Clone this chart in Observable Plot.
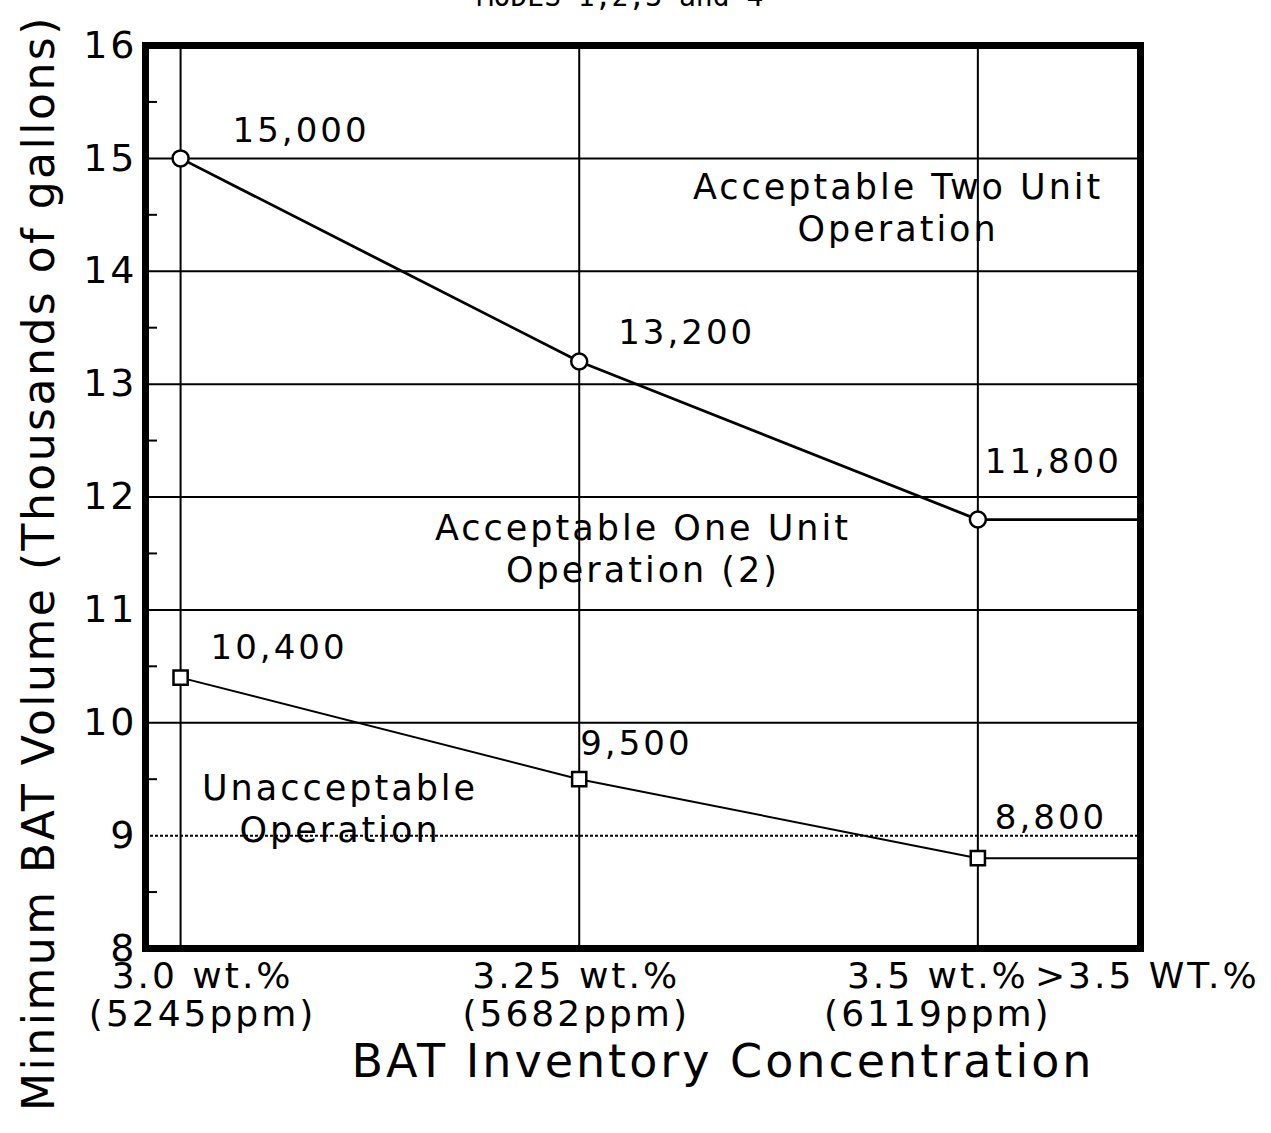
<!DOCTYPE html>
<html>
<head>
<meta charset="utf-8">
<script src="https://cdn.jsdelivr.net/npm/d3@7"></script>
<script src="https://cdn.jsdelivr.net/npm/@observablehq/plot@0.6"></script>
<style>
  html, body { margin: 0; padding: 0; background: #fff; overflow: hidden; }
  #wrap { position: relative; width: 1271px; height: 1133px; }
  #title { position: absolute; top: -17px; left: 0; width: 1240px; text-align: center;
           font-family: "DejaVu Sans Mono", monospace; font-size: 28px; color: #000; line-height: 1; }
  svg { font-family: "DejaVu Sans", sans-serif; }
  svg text { letter-spacing: 3px; }
</style>
</head>
<body>
<div id="wrap">
  <div id="title">MODES 1,2,3 and 4</div>
  <div id="chart"></div>
</div>
<script>
// ---- data ----
const concentrations = [3.0, 3.25, 3.5];
const beyondX = 3.6;                 // ">3.5 WT.%" position (right edge)
const xTickValues = [3.0, 3.25, 3.5, 3.6];
const xTickLabels = ["3.0 wt.%\n(5245ppm)", "3.25 wt.%\n(5682ppm)", "3.5 wt.%\n(6119ppm)", ">3.5 WT.%"];
const twoUnitVolume = [15.0, 13.2, 11.8];   // thousands of gallons
const oneUnitVolume = [10.4, 9.5, 8.8];
const yTickValues = [8, 9, 10, 11, 12, 13, 14, 15, 16];
const yMinorTicks = [8.5, 9.5, 10.5, 11.5, 12.5, 13.5, 14.5, 15.5];
const solidGrid = [10, 11, 12, 13, 14, 15];
const dottedGrid = [9];
const regionLabels = [
  {x: 3.45, y: 14.57, text: "Acceptable Two Unit\nOperation"},
  {x: 3.29, y: 11.55, text: "Acceptable One Unit\nOperation (2)"},
  {x: 3.10, y: 9.25, text: "Unacceptable\nOperation"}
];
const yTitle = "Minimum BAT Volume (Thousands of gallons)";
const xTitle = "BAT Inventory Concentration";

// ---- derived tables ----
const upper = concentrations.map((c, i) => ({x: c, y: twoUnitVolume[i]}));
const lower = concentrations.map((c, i) => ({x: c, y: oneUnitVolume[i]}));
const upperLine = [...upper, {x: beyondX, y: twoUnitVolume[twoUnitVolume.length - 1]}];
const lowerLine = [...lower, {x: beyondX, y: oneUnitVolume[oneUnitVolume.length - 1]}];
const fmt = v => d3.format(",")(Math.round(v * 1000));
const tickText = d => xTickLabels[xTickValues.indexOf(d)];

// label offsets (style only)
const upperOff = [[52, -27], [39, -28], [7, -57]];
const lowerOff = [[30, -29], [1, -35], [17, -40]];
const xTickShift = [22, -3, -40, 10];

const labelMarks = [];
upper.forEach((d, i) => labelMarks.push(Plot.text([d], {x: "x", y: "y", text: d => fmt(d.y), textAnchor: "start",
  dx: upperOff[i][0], dy: upperOff[i][1], fontSize: 34})));
lower.forEach((d, i) => labelMarks.push(Plot.text([d], {x: "x", y: "y", text: d => fmt(d.y), textAnchor: "start",
  dx: lowerOff[i][0], dy: lowerOff[i][1], fontSize: 34})));

const xAxisMarks = xTickValues.map((t, i) => Plot.axisX({ticks: [t], tickSize: 0, tickPadding: 13, fontSize: 36,
  lineHeight: 1.05, tickFormat: tickText, label: null, dx: xTickShift[i]}));

const chart = Plot.plot({
  width: 1271,
  height: 1133,
  marginLeft: 145,
  marginRight: 131,
  marginTop: 45,
  marginBottom: 185,
  x: {domain: [2.978, 3.602]},
  y: {domain: [8, 16]},
  marks: [
    Plot.ruleY(solidGrid, {stroke: "#000", strokeWidth: 2}),
    Plot.ruleY(dottedGrid, {stroke: "#000", strokeWidth: 2, strokeDasharray: "3,2"}),
    Plot.ruleX(concentrations, {stroke: "#000", strokeWidth: 2}),
    Plot.line(upperLine, {x: "x", y: "y", stroke: "#000", strokeWidth: 2.8}),
    Plot.line(lowerLine, {x: "x", y: "y", stroke: "#000", strokeWidth: 2}),
    Plot.dot(upper, {x: "x", y: "y", symbol: "circle", r: 8, fill: "#fff", stroke: "#000", strokeWidth: 2.5}),
    Plot.dot(lower, {x: "x", y: "y", symbol: "square", r: 8, fill: "#fff", stroke: "#000", strokeWidth: 2.5}),
    ...labelMarks,
    Plot.text(regionLabels, {x: "x", y: "y", text: "text", fontSize: 35, lineHeight: 1.2, textAnchor: "middle"}),
    Plot.frame({stroke: "#000", strokeWidth: 7}),
    Plot.axisY({ticks: yTickValues, tickSize: 0, tickPadding: 8, fontSize: 38, label: null}),
    Plot.axisY({ticks: yMinorTicks, tickSize: -12, tickFormat: () => "", strokeWidth: 2, label: null}),
    ...xAxisMarks,
    Plot.text([yTitle], {frameAnchor: "left", textAnchor: "middle", rotate: -90, dx: -106, dy: 66, fontSize: 44}),
    Plot.text([xTitle], {frameAnchor: "bottom", textAnchor: "middle", dx: 80, dy: 128, fontSize: 46})
  ]
});
d3.select(chart).selectAll("text").filter(function() { return this.textContent === yTitle; })
  .style("letter-spacing", "2.5px");
document.getElementById("chart").appendChild(chart);
</script>
</body>
</html>
